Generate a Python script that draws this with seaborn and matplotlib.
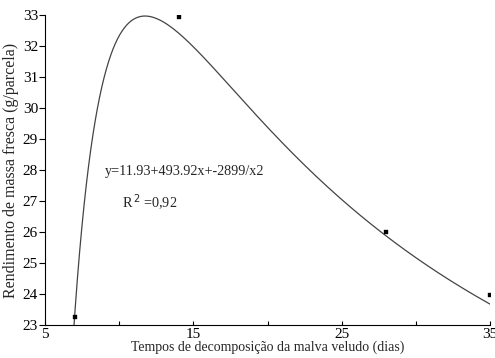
import numpy as np
import pandas as pd
import seaborn as sns
import matplotlib
matplotlib.use('Agg')
import matplotlib.pyplot as plt

# Observed data
days = [7, 14, 28, 35]
yield_fresh = [23.25, 32.95, 26.0, 23.97]

# Fitted equation shown on the chart: y = a + b/x - c/x^2
coef_a, coef_b, coef_c = 11.93, 493.92, 2899
x_ticks = [5, 15, 25, 35]
y_ticks = list(range(23, 34))

sns.set_theme(style='white')
plt.rcParams['font.family'] = ['Liberation Serif', 'DejaVu Serif']

df = pd.DataFrame({'dias': days, 'rend': yield_fresh})
x_fit = np.linspace(5, 35, 400)
fit = pd.DataFrame({'dias': x_fit, 'rend': coef_a + coef_b / x_fit - coef_c / x_fit ** 2})

fig = plt.figure(figsize=(4.95, 3.58), dpi=100)
ax = fig.add_axes([0.091, 0.092, 0.899, 0.866])

sns.lineplot(data=fit, x='dias', y='rend', ax=ax, color='#444444', linewidth=0.9)
sns.scatterplot(data=df, x='dias', y='rend', ax=ax, color='black', marker='s', s=10, edgecolor='black', zorder=3)

ax.set_xlim(5, 35)
ax.set_ylim(23, 33)
ax.set_xticks(x_ticks)
ax.set_xticks([10, 20, 30], minor=True)
ax.set_yticks(y_ticks)
ax.tick_params(axis='y', direction='out', length=4, width=0.8, labelsize=11, pad=1, left=True, colors='black')
ax.tick_params(axis='x', which='both', direction='in', length=3, width=0.8, labelsize=11, pad=2, bottom=True, colors='black')
for s in ['top', 'right']:
    ax.spines[s].set_visible(False)
for s in ['left', 'bottom']:
    ax.spines[s].set_color('black')
    ax.spines[s].set_linewidth(0.8)

ax.set_xlabel('Tempos de decomposição da malva veludo (dias)', fontsize=10, labelpad=0)
ax.set_ylabel('Rendimento de massa fresca (g/parcela)', fontsize=11.5, labelpad=3)

ax.text(9.05, 27.94, 'y=11.93+493.92x+-2899/x2', fontsize=10.2, va='center', ha='left')
ax.text(10.2, 26.94, r'R$^{\,2}$ =0,92', fontsize=10.2, va='center', ha='left')

plt.savefig('out.png', dpi=100)
